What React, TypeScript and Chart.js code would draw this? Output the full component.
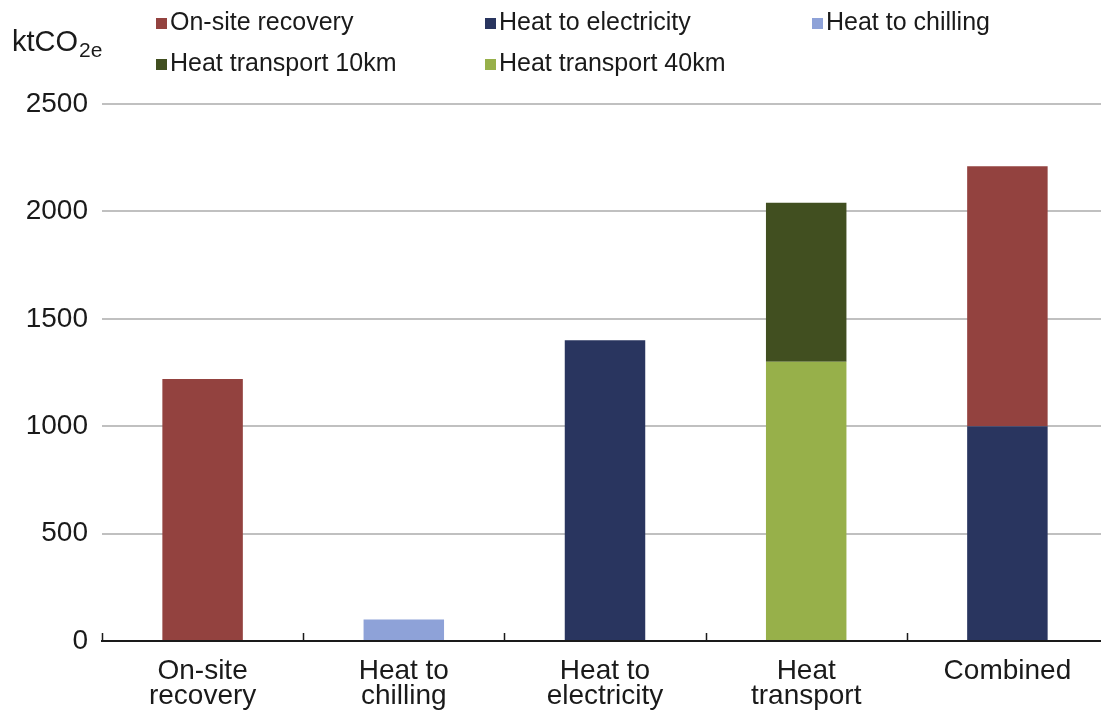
import React, { useEffect, useRef } from "react";
import { Chart, registerables } from "chart.js";

Chart.register(...registerables);

// Categories on the x axis (multi-line labels)
const categories: (string | string[])[] = [
  ["On-site", "recovery"],
  ["Heat to", "chilling"],
  ["Heat to", "electricity"],
  ["Heat", "transport"],
  "Combined",
];

// Emission reductions, ktCO2e
const onSiteRecovery = [1220, null, null, null, 1210];
const heatToElectricity = [null, null, 1400, null, 1000];
const heatToChilling = [null, 100, null, null, null];
const heatTransport10km = [null, null, null, 740, null];
const heatTransport40km = [null, null, null, 1300, null];

const yMin = 0;
const yMax = 2500;
const yStep = 500;

const COLORS = {
  onSite: "#93423f",
  electricity: "#29355f",
  chilling: "#8ea2d8",
  transport10: "#414f20",
  transport40: "#97b04a",
};

const FONT = "'Liberation Sans', Arial, Helvetica, sans-serif";

// Legend reading order (3 columns x 2 rows)
const legendOrder = [
  "On-site recovery",
  "Heat to electricity",
  "Heat to chilling",
  "Heat transport 10km",
  "Heat transport 40km",
];

const gridLegend = {
  id: "gridLegend",
  afterDraw(chart: any) {
    const ctx = chart.ctx as CanvasRenderingContext2D;
    const cols = [156, 485, 812];
    const baselines = [30, 71];
    ctx.save();
    ctx.font = `25px ${FONT}`;
    ctx.textBaseline = "alphabetic";
    ctx.textAlign = "left";
    legendOrder.forEach((label, i) => {
      const ds = chart.data.datasets.find((d: any) => d.label === label);
      if (!ds) return;
      const x = cols[i % 3];
      const base = baselines[Math.floor(i / 3)];
      ctx.fillStyle = ds.backgroundColor;
      ctx.fillRect(x, base - 12, 11, 11);
      ctx.fillStyle = "#1a1a1a";
      ctx.fillText(label, x + 14, base);
    });

    // Unit title with subscript
    ctx.font = `29px ${FONT}`;
    ctx.fillStyle = "#1a1a1a";
    ctx.fillText("ktCO", 12, 51);
    const w = ctx.measureText("ktCO").width;
    ctx.font = `21px ${FONT}`;
    ctx.fillText("2e", 12 + w + 1, 57);
    ctx.restore();
  },
};

// Upward tick marks on the category axis, at category boundaries
const innerTicks = {
  id: "innerTicks",
  afterDraw(chart: any) {
    const x = chart.scales.x;
    const n = chart.data.labels.length;
    const ctx = chart.ctx as CanvasRenderingContext2D;
    const bottom = chart.chartArea.bottom;
    ctx.save();
    ctx.strokeStyle = "#1a1a1a";
    ctx.lineWidth = 1.5;
    ctx.beginPath();
    for (let i = 0; i <= n; i++) {
      const px = Math.round(x.left + (i * x.width) / n) + 0.5;
      ctx.moveTo(px, bottom - 8);
      ctx.lineTo(px, bottom);
    }
    ctx.stroke();
    ctx.restore();
  },
};

export default function App() {
  const canvasRef = useRef<HTMLCanvasElement | null>(null);

  useEffect(() => {
    if (!canvasRef.current) return;
    const common = {
      barPercentage: 0.4,
      categoryPercentage: 1,
      borderWidth: 0,
    };
    const chart = new Chart(canvasRef.current, {
      type: "bar",
      data: {
        labels: categories,
        datasets: [
          { label: "Heat to electricity", data: heatToElectricity, backgroundColor: COLORS.electricity, ...common },
          { label: "Heat to chilling", data: heatToChilling, backgroundColor: COLORS.chilling, ...common },
          { label: "Heat transport 40km", data: heatTransport40km, backgroundColor: COLORS.transport40, ...common },
          { label: "Heat transport 10km", data: heatTransport10km, backgroundColor: COLORS.transport10, ...common },
          { label: "On-site recovery", data: onSiteRecovery, backgroundColor: COLORS.onSite, ...common },
        ] as any,
      },
      options: {
        animation: false,
        responsive: false,
        maintainAspectRatio: false,
        layout: { padding: { top: 104, left: 0, right: 0, bottom: 0 } },
        plugins: {
          legend: { display: false },
          tooltip: { enabled: false },
          title: { display: false },
        },
        scales: {
          x: {
            stacked: true,
            grid: { display: false, drawTicks: false },
            border: { display: true, color: "#1a1a1a", width: 2 },
            ticks: {
              color: "#1a1a1a",
              font: { family: FONT, size: 28, lineHeight: 0.88 },
              padding: 18,
              maxRotation: 0,
              autoSkip: false,
            },
            afterFit: (s: any) => {
              s.height = 74;
            },
          },
          y: {
            stacked: true,
            min: yMin,
            max: yMax,
            grid: {
              drawTicks: false,
              lineWidth: 2,
              color: (c: any) => (c.tick && c.tick.value === 0 ? "rgba(0,0,0,0)" : "#c0c0c0"),
            },
            border: { display: false },
            ticks: {
              stepSize: yStep,
              color: "#1a1a1a",
              font: { family: FONT, size: 28 },
              padding: 14,
              callback: (v: any) => String(v),
            },
            afterFit: (s: any) => {
              s.width = 102;
            },
          },
        },
      },
      plugins: [gridLegend, innerTicks],
    });
    return () => chart.destroy();
  }, []);

  return (
    <div
      style={{
        position: "fixed",
        left: 0,
        top: 0,
        width: 1101,
        height: 715,
        overflow: "hidden",
        background: "#ffffff",
      }}
    >
      <canvas ref={canvasRef} width={1108} height={715} style={{ display: "block" }} />
    </div>
  );
}
